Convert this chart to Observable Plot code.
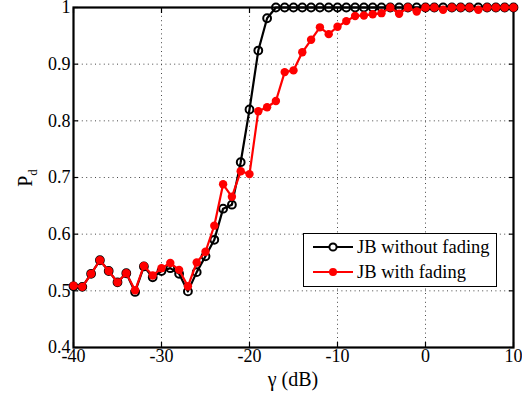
<!DOCTYPE html>
<html><head><meta charset="utf-8">
<script src="https://cdn.jsdelivr.net/npm/d3@7"></script>
<script src="https://cdn.jsdelivr.net/npm/@observablehq/plot@0.6"></script>
<style>
body{margin:0;background:#fff;}
#wrap{position:relative;width:522px;height:401px;font-family:"Liberation Serif",Tinos,"Times New Roman",Times,"Nimbus Roman","DejaVu Serif",serif;}
#legend{position:absolute;left:303px;top:233px;width:194px;height:54px;border:1.3px solid #000;background:#fff;box-sizing:border-box;}
#legend .row{position:absolute;left:0;height:20px;width:190px;}
#legend svg{position:absolute;left:8px;top:0;}
#legend span{position:absolute;left:53px;top:0;font-size:18.5px;line-height:20px;color:#000;white-space:nowrap;}
</style></head>
<body><div id="wrap"></div>
<script>
const gamma = [-40,-39,-38,-37,-36,-35,-34,-33,-32,-31,-30,-29,-28,-27,-26,-25,-24,-23,-22,-21,-20,-19,-18,-17,-16,-15,-14,-13,-12,-11,-10,-9,-8,-7,-6,-5,-4,-3,-2,-1,0,1,2,3,4,5,6,7,8,9,10];
const pdNoFading = [0.508,0.507,0.53,0.554,0.535,0.515,0.531,0.498,0.543,0.524,0.535,0.54,0.53,0.499,0.533,0.561,0.59,0.645,0.652,0.727,0.82,0.924,0.981,1,1,1,1,1,1,1,1,1,1,1,1,1,1,1,1,1,1,1,1,1,1,1,1,1,1,1,1];
const pdFading = [0.509,0.507,0.53,0.554,0.535,0.515,0.531,0.501,0.544,0.527,0.54,0.549,0.537,0.508,0.55,0.569,0.615,0.688,0.666,0.711,0.706,0.817,0.824,0.835,0.886,0.889,0.921,0.943,0.965,0.953,0.966,0.976,0.985,0.986,0.988,0.99,1,0.989,1,0.993,1,1,0.996,1,1,1,0.996,1,1,1,1];
const xTicks = [-40,-30,-20,-10,0,10];
const yTicks = [0.4,0.5,0.6,0.7,0.8,0.9,1];
const seriesNames = ["JB without fading","JB with fading"];

const FONT = '"Liberation Serif",Tinos,"Times New Roman",Times,"Nimbus Roman","DejaVu Serif",serif';
const black = gamma.map((g,i)=>({g, p: pdNoFading[i]}));
const red = gamma.map((g,i)=>({g, p: pdFading[i]}));
const fmt = d => String(d);

const chart = Plot.plot({
  width: 522, height: 401,
  marginLeft: 73, marginRight: 9, marginTop: 7, marginBottom: 54,
  style: {fontFamily: FONT, fontSize: "18px", color: "#000", background: "#fff", overflow: "visible"},
  x: {domain: [-40, 10]},
  y: {domain: [0.4, 1]},
  marks: [
    Plot.gridX(xTicks.slice(1,-1), {stroke: "#333", strokeOpacity: 0.9, strokeDasharray: "1,3.4", strokeWidth: 1}),
    Plot.gridY(yTicks.slice(1,-1), {stroke: "#333", strokeOpacity: 0.9, strokeDasharray: "1,3.4", strokeWidth: 1}),
    Plot.axisX(xTicks, {anchor: "bottom", tickSize: -5, tickPadding: 7, tickFormat: fmt, label: null, fontSize: 18, strokeWidth: 1.2}),
    Plot.axisX(xTicks, {anchor: "top", tickSize: -5, fill: "none", label: null, strokeWidth: 1.2}),
    Plot.axisY(yTicks, {anchor: "left", tickSize: -5, tickPadding: 8, tickFormat: fmt, label: null, fontSize: 18, strokeWidth: 1.2}),
    Plot.axisY(yTicks, {anchor: "right", tickSize: -5, fill: "none", label: null, strokeWidth: 1.2}),
    Plot.frame({stroke: "#000", strokeWidth: 2.2}),
    Plot.line(black, {x: "g", y: "p", stroke: "#000", strokeWidth: 2.2}),
    Plot.dot(black, {x: "g", y: "p", r: 3.9, stroke: "#000", strokeWidth: 2, fill: "none"}),
    Plot.line(red, {x: "g", y: "p", stroke: "#f00", strokeWidth: 2.2}),
    Plot.dot(red, {x: "g", y: "p", r: 4.2, fill: "#f00", stroke: "none"})
  ]
});
document.getElementById("wrap").appendChild(chart);

const svg = d3.select(chart);
const ylab = svg.append("text")
  .attr("transform", "translate(32,178) rotate(-90)")
  .attr("text-anchor", "middle")
  .attr("font-family", FONT)
  .attr("font-size", 20).attr("fill", "#000");
ylab.append("tspan").text("P");
ylab.append("tspan").attr("font-size", 13).attr("dy", 5).text("d");

svg.append("text")
  .attr("x", 293).attr("y", 386)
  .attr("text-anchor", "middle")
  .attr("font-family", FONT)
  .attr("font-size", 20).attr("fill", "#000")
  .text("γ (dB)");

const legend = document.createElement("div");
legend.id = "legend";
const colors = ["#000", "#f00"];
seriesNames.forEach((name, i) => {
  const row = document.createElement("div");
  row.className = "row";
  row.style.top = (i === 0 ? 3 : 28) + "px";
  const s = d3.create("svg").attr("width", 44).attr("height", 20);
  s.append("line").attr("x1", 1).attr("x2", 41).attr("y1", 10).attr("y2", 10).attr("stroke", colors[i]).attr("stroke-width", 2.2);
  if (i === 0) s.append("circle").attr("cx", 21).attr("cy", 10).attr("r", 3.6).attr("fill", "#fff").attr("stroke", "#000").attr("stroke-width", 2);
  else s.append("circle").attr("cx", 21).attr("cy", 10).attr("r", 4).attr("fill", "#f00");
  row.appendChild(s.node());
  const t = document.createElement("span");
  t.textContent = name;
  row.appendChild(t);
  legend.appendChild(row);
});
document.getElementById("wrap").appendChild(legend);
</script>
</body></html>
